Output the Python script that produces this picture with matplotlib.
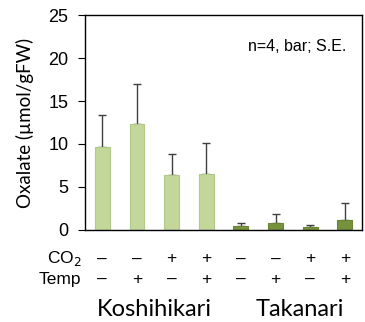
import numpy as np
import matplotlib
matplotlib.use('Agg')
from matplotlib import pyplot as plt

plt.rcParams['font.family'] = ['Liberation Sans', 'DejaVu Sans']

values = [9.6, 12.3, 6.4, 6.5, 0.5, 0.8, 0.35, 1.2]
errors = [3.8, 4.7, 2.4, 3.6, 0.3, 1.1, 0.2, 1.9]
co2 = ['\u2013', '\u2013', '+', '+', '\u2013', '\u2013', '+', '+']
temp = ['\u2013', '+', '\u2013', '+', '\u2013', '+', '\u2013', '+']
cultivars = ['Koshihikari', 'Takanari']
colors = ['#C4D79B'] * 4 + ['#76923C'] * 4
edges = ['#B0C888'] * 4 + ['#6A8535'] * 4

fig = plt.figure(figsize=(3.65, 3.22), dpi=100)
ax = fig.add_axes([0.233, 0.286, 0.759, 0.667])

x = np.arange(len(values))
ax.bar(x, values, width=0.43, color=colors, edgecolor=edges, linewidth=0.8, zorder=2)
ax.errorbar(x, values, yerr=[np.zeros(len(errors)), errors], fmt='none',
            ecolor='#404040', elinewidth=1, capsize=3, capthick=1, zorder=1)

ax.set_xlim(-0.5, 7.5)
ax.set_ylim(0, 25)
ax.set_yticks([0, 5, 10, 15, 20, 25])
ax.tick_params(axis='y', labelsize=13, length=5, width=0.8, pad=7)
ax.set_xticks([])
for s in ax.spines.values():
    s.set_linewidth(1)
ax.set_ylabel('Oxalate (\u00b5mol/gFW)', fontsize=13.5, labelpad=10,
              family=['Lato', 'DejaVu Sans'])

ax.text(0.945, 0.855, 'n=4, bar; S.E.', transform=ax.transAxes, ha='right',
        va='center', fontsize=11.5)

trans = ax.get_xaxis_transform()
for i in range(len(values)):
    ax.text(x[i], -0.135, co2[i], transform=trans, ha='center', va='center', fontsize=12.5)
    ax.text(x[i], -0.23, temp[i], transform=trans, ha='center', va='center', fontsize=12.5)
ax.text(-0.6, -0.135, 'CO$_2$', transform=trans, ha='right', va='center', fontsize=12.5)
ax.text(-0.6, -0.23, 'Temp', transform=trans, ha='right', va='center', fontsize=12.5)
ax.text(1.5, -0.37, cultivars[0], transform=trans, ha='center', va='center',
        fontsize=17, family=['Lato', 'DejaVu Sans'])
ax.text(5.7, -0.37, cultivars[1], transform=trans, ha='center', va='center',
        fontsize=17, family=['Lato', 'DejaVu Sans'])

fig.savefig('out.png', dpi=100)
